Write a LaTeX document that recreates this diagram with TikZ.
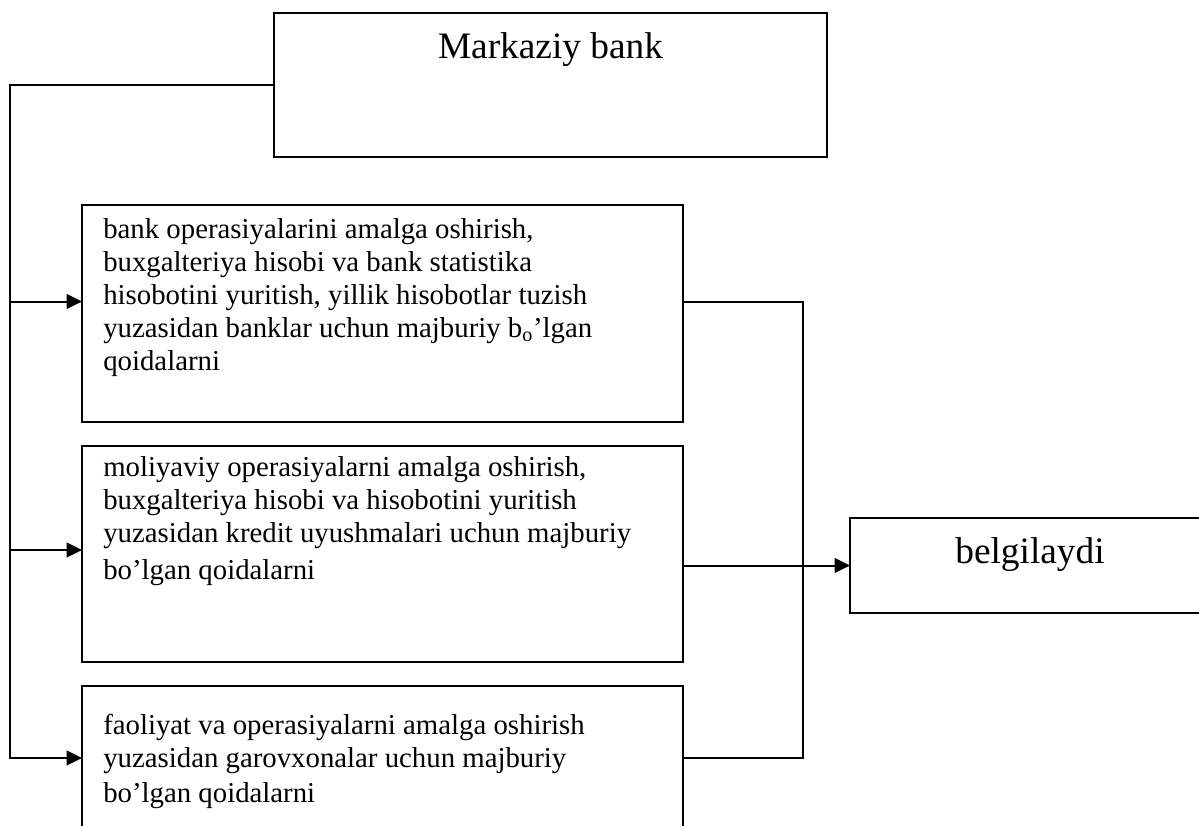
\documentclass[tikz,border=0pt]{standalone}
\usepackage{fontspec}
\setmainfont{Liberation Serif}
\usetikzlibrary{arrows.meta,positioning}

\begin{document}
\begin{tikzpicture}[x=0.75pt,y=-0.75pt,
  box/.style={draw,line width=1.5pt,inner sep=0pt,outer sep=0pt,anchor=north west},
  txt/.style={font=\fontsize{21.6}{24.75}\selectfont,align=left,inner sep=0pt},
  big/.style={font=\fontsize{28}{33}\selectfont},
  conn/.style={line width=1.5pt},
  arr/.style={conn,-{Triangle[length=11.5pt,width=11pt]}}
]
\clip (0,0) rectangle (1199,825);
\node[box,big,minimum width=414.75pt,text height=33.75pt,text depth=74.25pt] (mb) at (274,13) {Markaziy bank};
\node[box,minimum width=450.75pt,minimum height=162.75pt] (b1) at (82,205) {};
\node[box,minimum width=450.75pt,minimum height=162pt,below=18pt of b1] (b2) {};
\node[box,minimum width=450.75pt,minimum height=108pt,below=18pt of b2] (b3) {};
\node[box,big,minimum width=270pt,text height=33.75pt,text depth=37.5pt] (bel) at (850,518) {belgilaydi};

\node[txt,below right=9.75pt and 15.75pt of b1.north west] (t1) {bank operasiyalarini amalga oshirish,\\
buxgalteriya hisobi va bank statistika\\
hisobotini yuritish, yillik hisobotlar tuzish\\
yuzasidan banklar uchun majburiy b\textsubscript{o}’lgan\\
qoidalarni};
\node[txt,below right=7.5pt and 15.75pt of b2.north west] (t2) {moliyaviy operasiyalarni amalga oshirish,\\
buxgalteriya hisobi va hisobotini yuritish\\
yuzasidan kredit uyushmalari uchun majburiy\\[3pt]
bo’lgan qoidalarni};
\node[txt,below right=21pt and 15.75pt of b3.north west] (t3) {faoliyat va operasiyalarni amalga oshirish\\
yuzasidan garovxonalar uchun majburiy\\[1.5pt]
bo’lgan qoidalarni};

% chap tomondagi ulagichlar
\coordinate[left=198pt of mb.west] (lft);
\draw[arr] (mb.west) -- (lft) |- (b3.west);
\draw[arr] ([yshift=9pt]b1.west -| lft) -- ([yshift=9pt]b1.west);
\draw[arr] ([yshift=3pt]b2.west -| lft) -- ([yshift=3pt]b2.west);

% o'ng tomondagi ulagichlar
\coordinate[right=90pt of b3.east] (rgt);
\draw[conn] ([yshift=8.6pt]b1.east) -| (rgt) -- (b3.east);
\draw[arr] (b2.east |- bel.west) -- (bel.west);
\end{tikzpicture}
\end{document}
